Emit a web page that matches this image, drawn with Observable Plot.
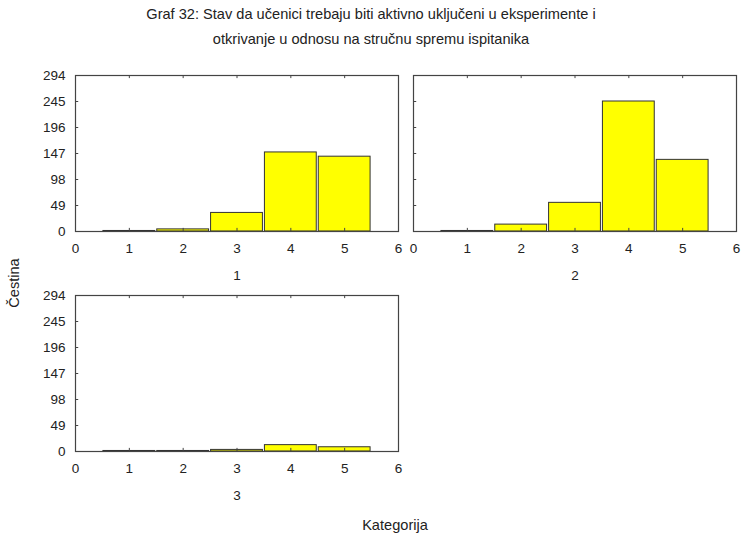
<!DOCTYPE html>
<html>
<head>
<meta charset="utf-8">
<script src="https://cdn.jsdelivr.net/npm/d3@7"></script>
<script src="https://cdn.jsdelivr.net/npm/@observablehq/plot@0.6"></script>
<style>
  body { margin: 0; background: #fff; }
  #wrap { position: relative; width: 742px; height: 536px; overflow: hidden; font-family: "Liberation Sans", Arial, sans-serif; color: #222; }
  .t { position: absolute; white-space: nowrap; font-size: 14.6px; }
  .panel { position: absolute; width: 410px; }
  .panel svg { overflow: visible; max-width: none !important; }
</style>
</head>
<body>
<div id="wrap">
  <div class="t" style="left:0;width:742px;text-align:center;top:6px;">Graf 32: Stav da učenici trebaju biti aktivno uključeni u eksperimente i</div>
  <div class="t" style="left:0;width:742px;text-align:center;top:31px;">otkrivanje u odnosu na stručnu spremu ispitanika</div>
  <div class="t" style="left:395px;top:517px;transform:translateX(-50%);">Kategorija</div>
  <div class="t" style="left:14px;top:283px;transform:translate(-50%,-50%) rotate(-90deg);">Čestina</div>
</div>
<script>
const categories = [1, 2, 3, 4, 5];
const panelNames = ["1", "2", "3"];
const panel1 = [1, 4, 35, 149, 141];
const panel2 = [1, 13, 54, 245, 135];
const panel3 = [1, 1, 3, 12, 8];
const yTicks = [0, 49, 98, 147, 196, 245, 294];
const xTicks = [0, 1, 2, 3, 4, 5, 6];

const wrap = document.getElementById("wrap");
const FONT = '"Liberation Sans", Arial, sans-serif';

function panel(values, name, left, top, showY) {
  const data = categories.map((k, i) => ({k, v: values[i]}));
  const frameColor = "#444";
  const p = Plot.plot({
    width: 75 + 323 + 12,
    height: 10 + 156 + 62,
    marginLeft: 75,
    marginRight: 12,
    marginTop: 10,
    marginBottom: 62,
    style: {fontFamily: FONT, fontSize: "13px", color: "#222", background: "transparent", maxWidth: "none"},
    x: {domain: [0, 6], axis: null},
    y: {domain: [0, 294], axis: null},
    marks: [
      Plot.rectY(data, {x1: d => d.k - 0.5, x2: d => d.k + 0.5, y: "v", fill: "#ffff00", stroke: "#333", strokeWidth: 1, insetLeft: 1, insetRight: 1}),
      Plot.frame({stroke: frameColor, strokeWidth: 1.2}),
      Plot.ruleX(xTicks, {x: d => d, y1: 0, y2: 294 * 0.02, stroke: frameColor}),
      Plot.ruleX(xTicks, {x: d => d, y1: 294, y2: 294 * 0.98, stroke: frameColor}),
      Plot.ruleY(yTicks, {y: d => d, x1: 0, x2: 0.06, stroke: frameColor}),
      Plot.text(xTicks, {x: d => d, y: 0, text: d => String(d), dy: 17, fill: "#222", fontSize: 13.5}),
      showY ? Plot.text(yTicks, {y: d => d, x: 0, text: d => String(d), dx: -10, textAnchor: "end", fill: "#222", fontSize: 13.5}) : null,
      Plot.text([name], {x: 3, y: 0, text: d => d, dy: 44, fill: "#222", fontSize: 13.5})
    ]
  });
  const div = document.createElement("div");
  div.className = "panel";
  div.style.left = left + "px";
  div.style.top = top + "px";
  div.appendChild(p);
  wrap.appendChild(div);
}

panel(panel1, panelNames[0], 0, 65, true);
panel(panel2, panelNames[1], 338, 65, false);
panel(panel3, panelNames[2], 0, 285, true);
</script>
</body>
</html>
